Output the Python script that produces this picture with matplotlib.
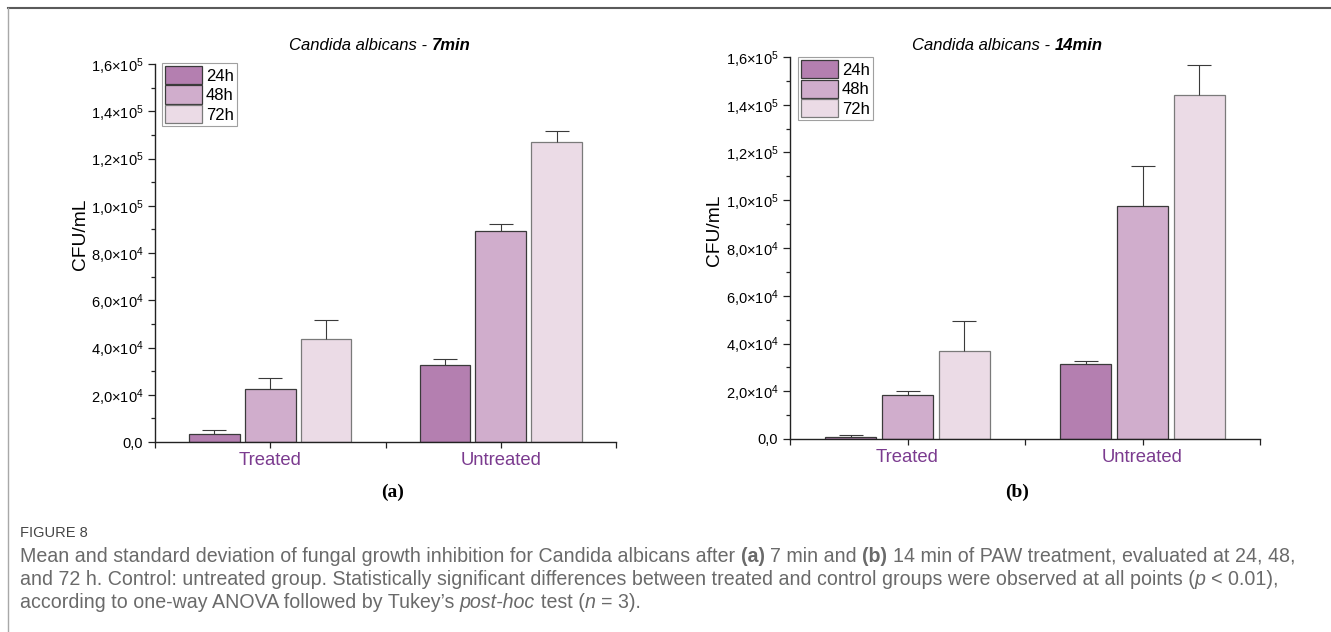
import matplotlib
matplotlib.use('Agg')
import matplotlib.pyplot as plt
import matplotlib.ticker as mtick
from matplotlib.lines import Line2D
from matplotlib.patches import Patch
import numpy as np

plt.rcParams['font.family'] = ['Liberation Sans', 'DejaVu Sans']
plt.rcParams['mathtext.fontset'] = 'custom'
plt.rcParams['mathtext.rm'] = 'Liberation Sans'
plt.rcParams['mathtext.it'] = 'Liberation Sans:italic'
plt.rcParams['mathtext.bf'] = 'Liberation Sans:bold'

groups = ['Treated', 'Untreated']
times = ['24h', '48h', '72h']

# CFU/mL, 7 min exposure (mean and SD per group)
a_mean_24 = [3400, 32400]
a_mean_48 = [22600, 89500]
a_mean_72 = [43700, 126900]
a_sd_24 = [1850, 2900]
a_sd_48 = [4300, 2900]
a_sd_72 = [7900, 4700]

# CFU/mL, 14 min exposure
b_mean_24 = [840, 31400]
b_mean_48 = [18300, 97600]
b_mean_72 = [37000, 144200]
b_sd_24 = [700, 1300]
b_sd_48 = [1700, 16700]
b_sd_72 = [12600, 12600]

bar_colors = ['#b47fb0', '#d0adcc', '#ebdbe6']
edge_colors = ['#3a3a3a', '#3a3a3a', '#7a7a7a']
label_purple = '#7b3b8f'

W, H = 1331, 632
fig = plt.figure(figsize=(W / 100, H / 100), dpi=100)


def px_box(left, top, right, bottom):
	return [left / W, 1 - bottom / H, (right - left) / W, (bottom - top) / H]


def sci_fmt(v, pos):
	if v == 0:
		return '0,0'
	exp = int(np.floor(np.log10(abs(v))))
	mant = v / 10 ** exp
	return r'$\mathregular{%s{\times}10^{%d}}$' % (('%.1f' % mant).replace('.', '{,}'), exp)


def draw_panel(ax, means, sds):
	x = np.arange(1, len(groups) + 1)
	offsets = [-0.242, 0, 0.242]
	width = 0.22
	for i in range(3):
		xs = x + offsets[i]
		ax.bar(xs, means[i], width=width, color=bar_colors[i],
			edgecolor=edge_colors[i], linewidth=0.9, zorder=2)
		_, caps, _ = ax.errorbar(xs, means[i], yerr=[np.zeros(len(xs)), sds[i]],
			fmt='none', ecolor='#3a3a3a', elinewidth=0.8, capsize=8.5,
			capthick=0.8, zorder=3)
		caps[0].set_visible(False)

	ax.set_xlim(0.5, 2.5)
	ax.set_ylim(0, 160000)
	ax.set_xticks([0.5, 1, 1.5, 2, 2.5])
	ax.set_xticklabels(['', groups[0], '', groups[1], ''])
	for lbl in ax.get_xticklabels():
		lbl.set_color(label_purple)
		lbl.set_fontsize(13.3)
	ax.yaxis.set_major_locator(mtick.MultipleLocator(20000))
	ax.yaxis.set_minor_locator(mtick.MultipleLocator(10000))
	ax.yaxis.set_major_formatter(mtick.FuncFormatter(sci_fmt))
	ax.tick_params(axis='y', which='major', length=5, width=0.9, labelsize=10.5, color='#222')
	ax.tick_params(axis='y', which='minor', length=3, width=0.9, color='#222')
	ax.tick_params(axis='x', which='major', length=4.5, width=0.9, pad=3, color='#222')
	for side in ['top', 'right']:
		ax.spines[side].set_visible(False)
	for side in ['left', 'bottom']:
		ax.spines[side].set_linewidth(1.0)
		ax.spines[side].set_color('#222')


ax_a = fig.add_axes(px_box(155, 64, 616, 442))
draw_panel(ax_a, [a_mean_24, a_mean_48, a_mean_72], [a_sd_24, a_sd_48, a_sd_72])
ax_b = fig.add_axes(px_box(790, 57, 1260, 439))
draw_panel(ax_b, [b_mean_24, b_mean_48, b_mean_72], [b_sd_24, b_sd_48, b_sd_72])

handles = [Patch(facecolor=bar_colors[i], edgecolor=edge_colors[i], linewidth=0.9)
	for i in range(3)]
for ax, anchor in [(ax_a, (0.015, 1.003)), (ax_b, (0.017, 1.0))]:
	ax.legend(handles, times, loc='upper left', bbox_to_anchor=anchor,
		borderaxespad=0, fontsize=12, handlelength=2.2, handleheight=1.3,
		labelspacing=0.08, handletextpad=0.25, borderpad=0.18, fancybox=False,
		framealpha=1, edgecolor='#a0a0a0')
	ax.get_legend().get_frame().set_linewidth(0.8)

renderer = fig.canvas.get_renderer()


def run_text(x, y, runs, ha='left', **common):
	# lay out differently styled pieces of text one after another (pixel coords)
	pieces = []
	cur = 0.0
	for s, style in runs:
		kw = dict(common)
		kw.update(style)
		lead = len(s) - len(s.lstrip(' '))
		trail = len(s) - len(s.rstrip(' '))
		core = s.strip(' ')
		probe_a = fig.text(0, 0, 'x x', **kw)
		probe_b = fig.text(0, 0, 'xx', **kw)
		sp = probe_a.get_window_extent(renderer).width - probe_b.get_window_extent(renderer).width
		probe_a.remove()
		probe_b.remove()
		cur += lead * sp
		t = fig.text(0, 0, core, va='baseline', ha='left', **kw)
		pieces.append((t, cur))
		cur += t.get_window_extent(renderer).width + trail * sp
	shift = -cur / 2 if ha == 'center' else 0
	for t, off in pieces:
		t.set_position(((x + off + shift) / W, 1 - y / H))
	return cur


# panel titles
run_text(380, 50, [('Candida albicans - ', {'style': 'italic'}),
	('7min', {'style': 'italic', 'weight': 'bold'})], ha='center', fontsize=12)
run_text(1007, 50, [('Candida albicans - ', {'style': 'italic'}),
	('14min', {'style': 'italic', 'weight': 'bold'})], ha='center', fontsize=12)

# y axis labels
fig.text(81 / W, 1 - 234 / H, 'CFU/mL', rotation=90, ha='center', va='center', fontsize=13.8)
fig.text(715 / W, 1 - 230 / H, 'CFU/mL', rotation=90, ha='center', va='center', fontsize=13.8)

# panel letters
serif = ['Liberation Serif', 'DejaVu Serif']
fig.text(393 / W, 1 - 497 / H, '(a)', family=serif, weight='bold', fontsize=14, ha='center', va='baseline')
fig.text(1017 / W, 1 - 497 / H, '(b)', family=serif, weight='bold', fontsize=14, ha='center', va='baseline')

# caption
cap_font = ['Liberation Sans', 'DejaVu Sans']
cap_color = '#6a6a6a'
fig.text(20 / W, 1 - 537 / H, 'FIGURE 8', family=cap_font, fontsize=10.5,
	color='#454545', va='baseline')
cap_kw = dict(family=cap_font, fontsize=14.1, color=cap_color)
run_text(20, 562, [
	('Mean and standard deviation of fungal growth inhibition for Candida albicans after ', {}),
	('(a)', {'weight': 'bold'}),
	(' 7 min and ', {}),
	('(b)', {'weight': 'bold'}),
	(' 14 min of PAW treatment, evaluated at 24, 48,', {})], **cap_kw)
run_text(20, 585, [
	('and 72 h. Control: untreated group. Statistically significant differences between treated and control groups were observed at all points (', {}),
	('p', {'style': 'italic'}),
	(' < 0.01),', {})], **cap_kw)
run_text(20, 608, [
	('according to one-way ANOVA followed by Tukey\u2019s ', {}),
	('post-hoc', {'style': 'italic'}),
	(' test (', {}),
	('n', {'style': 'italic'}),
	(' = 3).', {})], **cap_kw)

# page frame lines
fig.add_artist(Line2D([8 / W, 1], [1 - 8 / H, 1 - 8 / H], color='#5a5a5a', linewidth=1.5))
fig.add_artist(Line2D([8 / W, 8 / W], [0, 1 - 8 / H], color='#a8a8a8', linewidth=1.0))

fig.savefig('out.png', dpi=100)
